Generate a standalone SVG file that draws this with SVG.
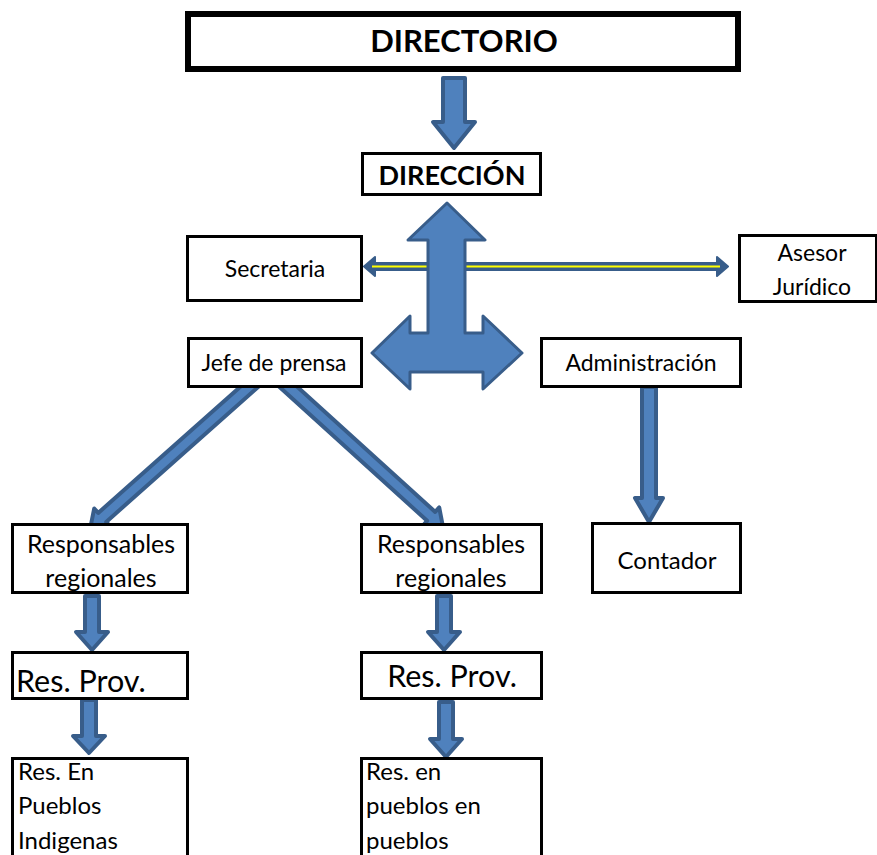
<svg xmlns="http://www.w3.org/2000/svg" width="877" height="855" viewBox="0 0 877 855">
<style>
.box{fill:#fff;stroke:#000;stroke-width:3}
.t{font-family:Lato,"Liberation Sans",sans-serif;fill:#000;text-anchor:middle}
.tl{font-family:Lato,"Liberation Sans",sans-serif;fill:#000}
.b{font-weight:bold}
.arr{fill:#4f81bd;stroke:#385d8a;stroke-width:3;stroke-linejoin:round}
.arr4{fill:#4f81bd;stroke:#385d8a;stroke-width:4;stroke-linejoin:round}
</style>
<rect width="877" height="855" fill="#fff"/>
<g id="connectors">
  <polygon class="arr4" points="443,78 465,78 465,122 475,122 454,148 433,122 443,122"/>
  <g id="h-arrow">
    <polygon points="364,266.5 375,257 375,263 717,263 717,257 728,266.5 717,276 717,270 375,270 375,276" fill="#385d8a" stroke="#385d8a" stroke-width="2" stroke-linejoin="round"/>
    <line x1="372" y1="266.5" x2="720" y2="266.5" stroke="#ffff00" stroke-width="2"/>
  </g>
  <polygon class="arr" points="447,203 485,240 465,240 465,333 483,333 483,316 522,353 483,389 483,372 410,372 410,389 372,353 410,316 410,333 428,333 428,240 408,240"/>
  <polygon class="arr4" transform="translate(257,380) rotate(138.4)" points="0,-6 207,-6 207,-12 223,0 207,12 207,6 0,6"/>
  <polygon class="arr4" transform="translate(283,382) rotate(42.2)" points="0,-6 200,-6 200,-12 216,0 200,12 200,6 0,6"/>
  <polygon class="arr4" points="642,387 656,387 656,498 663,498 649,522 635,498 642,498"/>
  <polygon class="arr4" points="85,596 99,596 99,632 108,632 92,650 76,632 85,632"/>
  <polygon class="arr4" points="82,700 96,700 96,736 105,736 89,753 73,736 82,736"/>
  <polygon class="arr4" points="437,596 451,596 451,632 460,632 444,650 428,632 437,632"/>
  <polygon class="arr4" points="439,702 453,702 453,739 462,739 446,757 430,739 439,739"/>
</g>
<g id="directorio">
  <rect x="188" y="14" width="550" height="55" fill="#fff" stroke="#000" stroke-width="6"/>
  <text class="t b" x="464" y="52" font-size="31">DIRECTORIO</text>
</g>
<g id="direccion">
  <rect class="box" x="362.5" y="153.5" width="178" height="41"/>
  <text class="t b" x="452" y="185" font-size="27">DIRECCIÓN</text>
</g>
<g id="secretaria">
  <rect class="box" x="187.5" y="236.5" width="174" height="64"/>
  <text class="t" x="275" y="277" font-size="23">Secretaria</text>
</g>
<g id="asesor">
  <rect class="box" x="739.5" y="235.5" width="137" height="66"/>
  <text class="t" x="812" y="261" font-size="23">Asesor</text>
  <text class="t" x="812" y="295" font-size="23">Jurídico</text>
</g>
<g id="jefe">
  <rect class="box" x="188.5" y="338.5" width="173" height="48"/>
  <text class="t" x="274" y="371" font-size="23">Jefe de prensa</text>
</g>
<g id="administracion">
  <rect class="box" x="541.5" y="338.5" width="199" height="48"/>
  <text class="t" x="641" y="371" font-size="23">Administración</text>
</g>
<g id="contador">
  <rect class="box" x="592.5" y="523.5" width="148" height="69"/>
  <text class="t" x="667" y="569" font-size="24">Contador</text>
</g>
<g id="resp-left">
  <rect class="box" x="12.5" y="524.5" width="175" height="68"/>
  <text class="t" x="101" y="553" font-size="25">Responsables</text>
  <text class="t" x="101" y="587" font-size="25">regionales</text>
</g>
<g id="resp-right">
  <rect class="box" x="361.5" y="524.5" width="180" height="68"/>
  <text class="t" x="451" y="553" font-size="25">Responsables</text>
  <text class="t" x="451" y="587" font-size="25">regionales</text>
</g>
<g id="prov-left">
  <rect class="box" x="12.5" y="652.5" width="175" height="46"/>
  <text class="tl" x="16" y="692" font-size="30.5">Res. Prov.</text>
</g>
<g id="prov-right">
  <rect class="box" x="361.5" y="652.5" width="180" height="46"/>
  <text class="t" x="452" y="687" font-size="30.5">Res. Prov.</text>
</g>
<g id="pueblos-left">
  <rect class="box" x="12.5" y="758.5" width="175" height="100"/>
  <text class="tl" x="18" y="780" font-size="24">Res. En</text>
  <text class="tl" x="18" y="814" font-size="24">Pueblos</text>
  <text class="tl" x="18" y="849" font-size="24">Indigenas</text>
</g>
<g id="pueblos-right">
  <rect class="box" x="361.5" y="758.5" width="180" height="100"/>
  <text class="tl" x="366" y="780" font-size="24">Res. en</text>
  <text class="tl" x="366" y="814" font-size="24">pueblos en</text>
  <text class="tl" x="366" y="849" font-size="24">pueblos</text>
</g>
</svg>
